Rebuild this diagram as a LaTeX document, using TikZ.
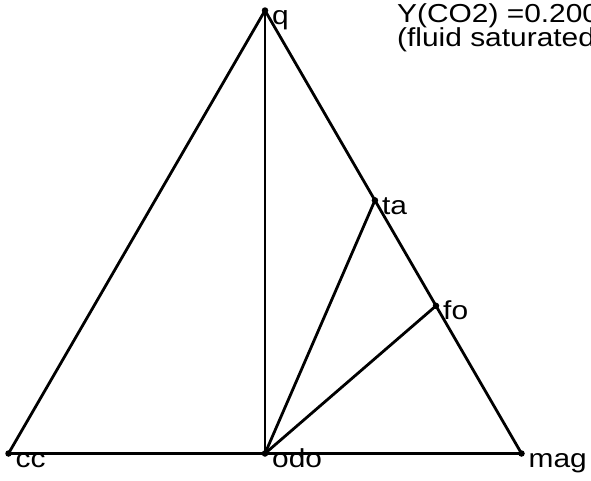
\documentclass[tikz,border=0pt]{standalone}
\usepackage{fontspec}
\usepackage{graphicx}
\setmainfont{Liberation Sans}
\usetikzlibrary{calc}
\newcommand{\wide}[1]{\scalebox{1.15}[1]{#1}}
\begin{document}
\begin{tikzpicture}[x=1pt,y=-1pt,
  edge/.style={line width=2.8pt, line cap=round, line join=round},
  pt/.style={circle, fill=black, inner sep=0pt, minimum size=6.5pt},
  lbl/.style={anchor=base west, inner sep=0pt, font=\fontsize{26}{26}\selectfont}]
\clip (0,0) rectangle (591,480);
\coordinate (cc) at (8.5,453.5);
\coordinate (mag) at (521.5,453.5);
\coordinate (q) at (265,10.5);
\coordinate (odo) at (265,453.5);
\coordinate (ta) at ($(q)!3/7!(mag)$);
\coordinate (fo) at ($(q)!2/3!(mag)$);
\draw[edge] (cc) -- (q) -- (mag) -- cycle;
\draw[edge] (q) -- (odo);
\draw[edge] (odo) -- (ta);
\draw[edge] (odo) -- (fo);
\foreach \p/\t in {cc/cc, mag/mag, q/q, odo/odo, ta/ta, fo/fo}{
  \node[pt] (d\p) at (\p) {};
  \node[lbl] (l\p) at ($(\p)+(7,14)$) {\wide{\t}};
}
\node[lbl] (title1) at (397,22) {\wide{Y(CO2) =0.200}};
\node[lbl] (title2) at (397,46) {\wide{(fluid saturated)}};
\end{tikzpicture}
\end{document}
